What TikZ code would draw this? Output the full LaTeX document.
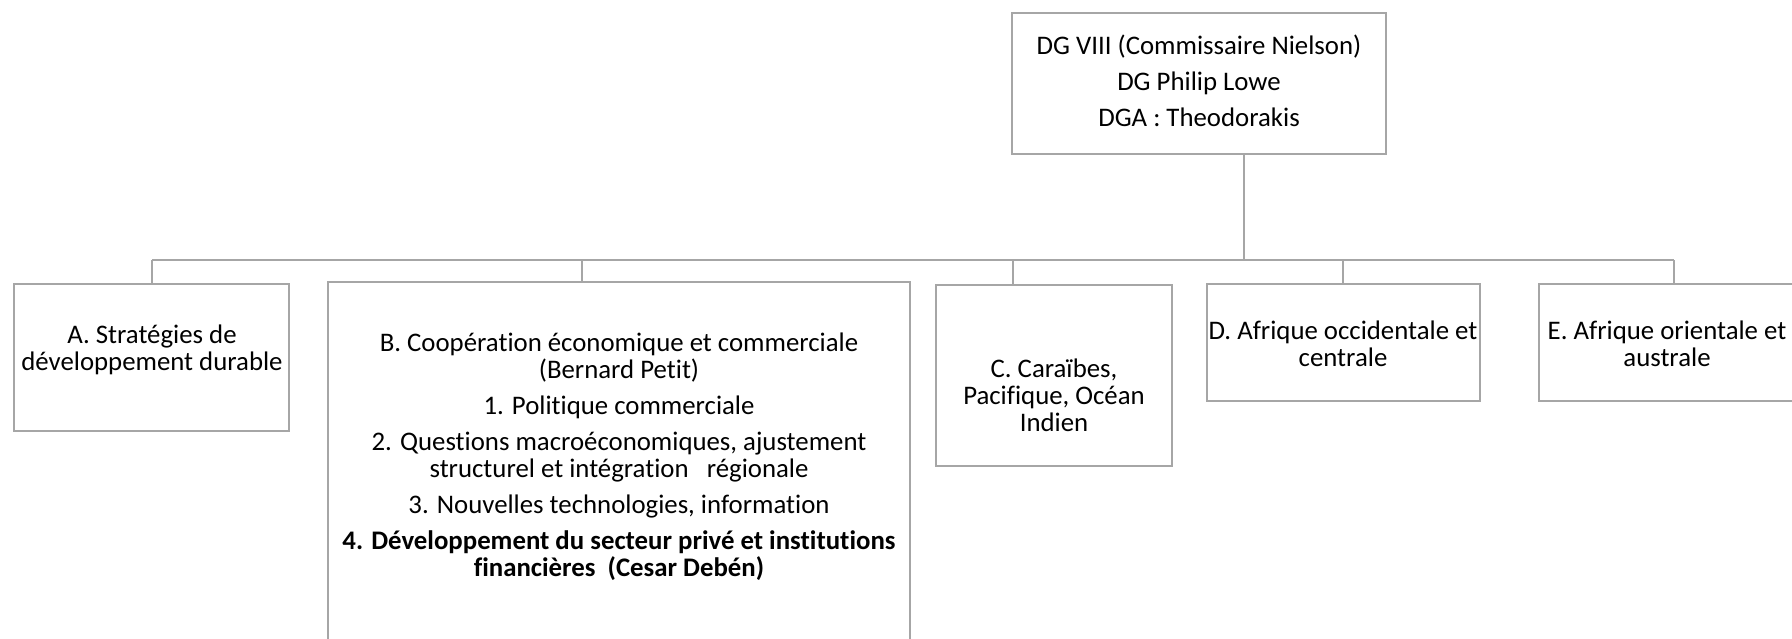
\documentclass[tikz,border=0pt]{standalone}
\usepackage{fontspec}
\setmainfont[Ligatures=NoCommon]{Carlito}
\usetikzlibrary{positioning}
\definecolor{linegray}{RGB}{166,166,166}

\begin{document}
\begin{tikzpicture}[x=0.5pt,y=-0.5pt,dept/.style={draw=linegray,line width=1.2pt,anchor=north west,inner sep=0pt,outer sep=0pt},lbl/.style={align=center,font=\fontsize{13.4}{13.5}\selectfont,inner sep=0pt},link/.style={draw=linegray,line width=1.2pt}]
\def\busy{260};
\def\psep{4.5pt};

\useasboundingbox (0,0) rectangle (1792,638);
\clip (0,0) rectangle (1792,638);

% boxes
\node[dept,minimum width=187pt,minimum height=70.5pt] (dg) at (1012,13) {};
\node[dept,minimum width=137.5pt,minimum height=73.5pt] (unitA) at (14,284) {};
\node[dept,minimum width=291pt,minimum height=184pt] (unitB) at (328,282) {};
\node[dept,minimum width=118pt,minimum height=90.5pt] (unitC) at (936,285) {};
\node[dept,minimum width=136.5pt,minimum height=58.5pt] (unitD) at (1207,284) {};
\node[dept,minimum width=135pt,minimum height=58.5pt] (unitE) at (1539,284) {};

% texts
\node[lbl] (dgT) at (1199,81) {DG VIII (Commissaire Nielson)\\[\psep] DG Philip Lowe\\[\psep] DGA : Theodorakis};
\node[lbl] (unitAT) at (152,350) {A. Stratégies de\\ développement durable};
\node[lbl] (unitBT) at (619,457) {B. Coopération économique et commerciale\\ (Bernard Petit)\\[\psep] 1. Politique commerciale\\[\psep] 2. Questions macroéconomiques, ajustement\\ structurel et intégration~~ régionale\\[\psep] 3. Nouvelles technologies, information\\[\psep] \textbf{4. Développement du secteur privé et institutions}\\ \textbf{financières~~(Cesar Debén)}};
\node[lbl] (unitCT) at (1054,395) {C. Caraïbes,\\ Pacifique, Océan\\ Indien};
\node[lbl] (unitDT) at (1343,344) {D. Afrique occidentale et\\ centrale};
\node[lbl] (unitET) at (1667,344) {E. Afrique orientale et\\ australe};

% connectors
\coordinate (jDG) at (1244,\busy);
\coordinate (jA) at (152,\busy);
\coordinate (jB) at (582,\busy);
\coordinate (jC) at (1013,\busy);
\coordinate (jD) at (1343,\busy);
\coordinate (jE) at (1674,\busy);
\draw[link] (jA) -- (jE);
\draw[link] (jDG |- dg.south) -- (jDG);
\foreach \j/\b in {jA/unitA,jB/unitB,jC/unitC,jD/unitD,jE/unitE}
  \draw[link] (\j) -- (\j |- \b.north);

\end{tikzpicture}
\end{document}
